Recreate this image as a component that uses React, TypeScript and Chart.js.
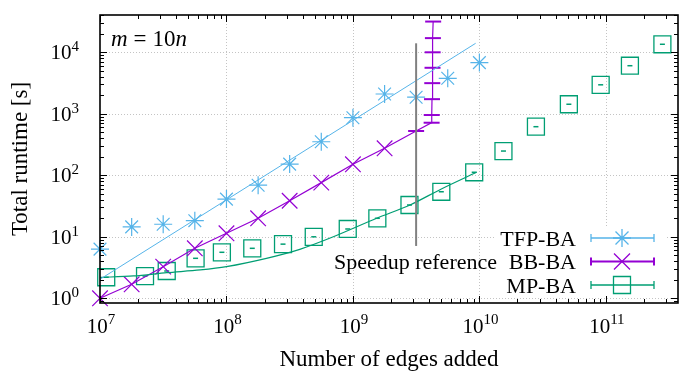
import React, { useEffect, useRef } from "react";
import { Chart, registerables } from "chart.js";

Chart.register(...registerables);

// ---------- data ----------
const tfpX = [1e7, 1.78e7, 3.16e7, 5.62e7, 1e8, 1.78e8, 3.16e8, 5.62e8, 1e9, 1.78e9, 3.16e9, 5.62e9, 1e10];
const tfpY = [6.3, 14.5, 16, 18.3, 41, 69, 152, 351, 864, 2100, 1860, 3780, 6800];
const tfpFitX = [1e7, 9.34e9];
const tfpFitY = [2.04, 14000];

const bbX = [1e7, 1.78e7, 3.16e7, 5.62e7, 1e8, 1.78e8, 3.16e8, 5.62e8, 1e9, 1.78e9, 3.16e9, 4.19e9, 4.2e9, 4.22e9, 4.24e9, 4.26e9, 4.27e9, 4.29e9, 4.31e9];
const bbY = [1.0, 1.69, 3.27, 6.5, 11.4, 20, 38.6, 76, 151, 275, 525, 716, 955, 1730, 3150, 5600, 10000, 17000, 31600];

const mpX = [1.12e7, 2.27e7, 3.37e7, 5.7e7, 9.2e7, 1.6e8, 2.8e8, 4.9e8, 9.1e8, 1.56e9, 2.8e9, 5e9, 9.1e9, 1.55e10, 2.8e10, 5.1e10, 9.1e10, 1.55e11, 2.8e11];
const mpY = [2.2, 2.3, 2.78, 4.47, 5.6, 6.5, 7.6, 10.0, 13.4, 20, 32.9, 54, 112, 248, 617, 1430, 2960, 6050, 13500];
const mpFitX = [1e7, 1.84e7, 3.37e7, 6.2e7, 1e8, 2.07e8, 3.8e8, 7e8, 1.54e9, 2.83e9, 5e9, 9.5e9];
const mpFitY = [2.19, 2.31, 2.61, 2.89, 3.27, 4.47, 6.26, 10.0, 20, 32.9, 60, 112];

const refX = [3.16e9, 3.16e9];
const refY = [7.1, 14000];

const xDecades = [7, 8, 9, 10, 11];
const yDecades = [0, 1, 2, 3, 4];
const seriesNames = ["TFP-BA", "BB-BA", "MP-BA"];
const refLabel = "Speedup reference";
const xTitle = "Number of edges added";
const yTitle = "Total runtime [s]";

const X_MIN = 1e7;
const X_MAX = 3.72e11;
const Y_MIN = 0.839;
const Y_MAX = 40400;

const C_TFP = "#56B4E9";
const C_BB = "#9400D3";
const C_MP = "#009E73";
const SERIF = '"Liberation Serif", "DejaVu Serif", serif';

const pts = (xs: number[], ys: number[]) => xs.map((x, i) => ({ x, y: ys[i] }));

const decorPlugin = {
  id: "decor",
  beforeDatasetsDraw(chart: any) {
    const { ctx, chartArea: a, scales } = chart;
    const xs = scales.x, ys = scales.y;
    ctx.save();
    ctx.strokeStyle = "#c4c4c4";
    ctx.lineWidth = 1;
    ctx.setLineDash([1, 2]);
    for (const d of xDecades) {
      const px = Math.round(xs.getPixelForValue(Math.pow(10, d))) + 0.5;
      if (px <= a.left + 2 || px >= a.right - 2) continue;
      ctx.beginPath(); ctx.moveTo(px, a.top); ctx.lineTo(px, a.bottom); ctx.stroke();
    }
    for (const d of yDecades) {
      const py = Math.round(ys.getPixelForValue(Math.pow(10, d))) + 0.5;
      if (py <= a.top + 2 || py >= a.bottom - 2) continue;
      ctx.beginPath(); ctx.moveTo(a.left, py); ctx.lineTo(a.right, py); ctx.stroke();
    }
    ctx.setLineDash([]);
    // opaque key box
    ctx.fillStyle = "#ffffff";
    ctx.fillRect(494, 226, 172, 71);
    ctx.restore();
  },
  afterDatasetsDraw(chart: any) {
    const { ctx, chartArea: a, scales } = chart;
    const xs = scales.x, ys = scales.y;
    ctx.save();
    // ticks
    ctx.strokeStyle = "#000";
    ctx.lineWidth = 1;
    for (let d = 7; d <= 11; d++) {
      for (let m = 1; m <= 9; m++) {
        const v = m * Math.pow(10, d);
        if (v < X_MIN || v > X_MAX) continue;
        const px = Math.round(xs.getPixelForValue(v)) + 0.5;
        const len = m === 1 ? 7 : 4;
        ctx.beginPath();
        ctx.moveTo(px, a.bottom); ctx.lineTo(px, a.bottom - len);
        ctx.moveTo(px, a.top); ctx.lineTo(px, a.top + len);
        ctx.stroke();
      }
    }
    for (let d = -1; d <= 4; d++) {
      for (let m = 1; m <= 9; m++) {
        const v = m * Math.pow(10, d);
        if (v < Y_MIN || v > Y_MAX) continue;
        const py = Math.round(ys.getPixelForValue(v)) + 0.5;
        const len = m === 1 ? 7 : 4;
        ctx.beginPath();
        ctx.moveTo(a.left, py); ctx.lineTo(a.left + len, py);
        ctx.moveTo(a.right, py); ctx.lineTo(a.right - len, py);
        ctx.stroke();
      }
    }
    // border
    ctx.lineWidth = 1.6;
    ctx.strokeRect(a.left, a.top, a.right - a.left, a.bottom - a.top);

    ctx.fillStyle = "#000";
    ctx.textBaseline = "alphabetic";
    const big = "21px " + SERIF;
    const small = "15px " + SERIF;
    // x tick labels
    for (const d of xDecades) {
      const px = xs.getPixelForValue(Math.pow(10, d));
      ctx.font = big;
      const w1 = ctx.measureText("10").width;
      ctx.font = small;
      const w2 = ctx.measureText(String(d)).width;
      const x0 = px - (w1 + w2) / 2 + 1;
      ctx.font = big; ctx.textAlign = "left";
      ctx.fillText("10", x0, 333);
      ctx.font = small;
      ctx.fillText(String(d), x0 + w1, 324);
    }
    // y tick labels
    for (const d of yDecades) {
      const py = ys.getPixelForValue(Math.pow(10, d));
      ctx.font = small;
      const w2 = ctx.measureText(String(d)).width;
      ctx.font = big;
      const w1 = ctx.measureText("10").width;
      const right = 79;
      ctx.textAlign = "left";
      ctx.fillText("10", right - w2 - w1, py + 7);
      ctx.font = small;
      ctx.fillText(String(d), right - w2, py - 1);
    }
    // axis titles
    ctx.font = "23px " + SERIF;
    ctx.textAlign = "center";
    ctx.fillText(xTitle, (a.left + a.right) / 2, 366);
    ctx.save();
    ctx.translate(27, (a.top + a.bottom) / 2);
    ctx.rotate(-Math.PI / 2);
    ctx.fillText(yTitle, 0, 0);
    ctx.restore();

    // m = 10n
    ctx.textAlign = "left";
    let tx = 111;
    const by = 46;
    ctx.font = "italic 23px " + SERIF;
    ctx.fillText("m", tx, by); tx += ctx.measureText("m").width + 6;
    ctx.font = "23px " + SERIF;
    ctx.fillText("=", tx, by); tx += ctx.measureText("=").width + 6;
    ctx.fillText("10", tx, by); tx += ctx.measureText("10").width;
    ctx.font = "italic 23px " + SERIF;
    ctx.fillText("n", tx, by);

    // legend
    const rows = [238, 261.5, 285];
    const colors = [C_TFP, C_BB, C_MP];
    ctx.font = "22px " + SERIF;
    ctx.textAlign = "right";
    rows.forEach((ry, i) => {
      ctx.fillStyle = "#000";
      ctx.fillText(seriesNames[i], 576, ry + 7.5);
      ctx.strokeStyle = colors[i];
      ctx.lineWidth = i === 1 ? 2 : 1.3;
      ctx.beginPath();
      ctx.moveTo(591, ry); ctx.lineTo(654, ry);
      ctx.moveTo(591, ry - 4); ctx.lineTo(591, ry + 4);
      ctx.moveTo(654, ry - 4); ctx.lineTo(654, ry + 4);
      ctx.stroke();
      ctx.lineWidth = 1.3;
      ctx.beginPath();
      if (i === 0) {
        ctx.moveTo(622, ry - 9); ctx.lineTo(622, ry + 9);
        ctx.moveTo(613, ry); ctx.lineTo(631, ry);
        ctx.moveTo(615.5, ry - 6.5); ctx.lineTo(628.5, ry + 6.5);
        ctx.moveTo(628.5, ry - 6.5); ctx.lineTo(615.5, ry + 6.5);
      } else if (i === 1) {
        ctx.moveTo(614, ry - 8); ctx.lineTo(630, ry + 8);
        ctx.moveTo(630, ry - 8); ctx.lineTo(614, ry + 8);
      } else {
        ctx.rect(613.5, ry - 8.5, 17, 17);
      }
      ctx.stroke();
    });
    ctx.fillStyle = "#000";
    ctx.fillText(refLabel, 497, rows[1] + 7.5);
    ctx.restore();
  },
};

export default function App() {
  const ref = useRef<HTMLCanvasElement | null>(null);
  useEffect(() => {
    document.body.style.margin = "0";
    const canvas = ref.current!;
    const chart = new Chart(canvas, {
      type: "scatter",
      data: {
        datasets: [
          {
            label: "Speedup reference",
            data: pts(refX, refY),
            showLine: true,
            borderColor: "#808080",
            borderWidth: 2,
            pointRadius: 0,
            clip: false,
          },
          {
            label: "TFP-BA fit",
            data: pts(tfpFitX, tfpFitY),
            showLine: true,
            borderColor: C_TFP,
            borderWidth: 1,
            pointRadius: 0,
          },
          {
            label: "MP-BA fit",
            data: pts(mpFitX, mpFitY),
            showLine: true,
            borderColor: C_MP,
            borderWidth: 1.2,
            pointRadius: 0,
            tension: 0.3,
          },
          {
            label: "TFP-BA",
            data: pts(tfpX, tfpY),
            showLine: false,
            pointStyle: "star",
            pointRadius: 9,
            pointBorderWidth: 1.2,
            pointBorderColor: C_TFP,
            pointBackgroundColor: "transparent",
            clip: false,
          },
          {
            label: "BB-BA",
            data: pts(bbX, bbY),
            showLine: true,
            borderColor: C_BB,
            borderWidth: 1.2,
            pointStyle: bbX.map((_, i) => (i < 10 ? "crossRot" : "line")),
            pointRadius: bbX.map((_, i) => (i < 10 ? 11 : 8)),
            pointBorderWidth: bbX.map((_, i) => (i < 10 ? 1.2 : 2)),
            pointBorderColor: C_BB,
            pointBackgroundColor: "transparent",
            clip: false,
          },
          {
            label: "MP-BA",
            data: pts(mpX, mpY),
            showLine: false,
            pointStyle: "rect",
            pointRadius: 12,
            pointBorderWidth: 1.3,
            pointBorderColor: C_MP,
            pointBackgroundColor: "transparent",
            clip: false,
          },
          {
            label: "MP-BA bars",
            data: pts(mpX, mpY),
            showLine: false,
            pointStyle: "line",
            pointRadius: 2.5,
            pointBorderWidth: 1.5,
            pointBorderColor: C_MP,
            clip: false,
          },
        ],
      },
      options: {
        responsive: false,
        animation: false,
        events: [],
        layout: { autoPadding: false, padding: { left: 100, top: 15, right: 1, bottom: 71 } },
        plugins: { legend: { display: false }, tooltip: { enabled: false } },
        scales: {
          x: {
            type: "logarithmic",
            min: X_MIN,
            max: X_MAX,
            ticks: { display: false },
            grid: { display: false },
            border: { display: false },
            afterFit: (s: any) => { s.height = 0; },
          },
          y: {
            type: "logarithmic",
            min: Y_MIN,
            max: Y_MAX,
            ticks: { display: false },
            grid: { display: false },
            border: { display: false },
            afterFit: (s: any) => { s.width = 0; },
          },
        },
      },
      plugins: [decorPlugin],
    } as any);
    return () => chart.destroy();
  }, []);
  return <canvas ref={ref} width={679} height={374} style={{ display: "block" }} />;
}
